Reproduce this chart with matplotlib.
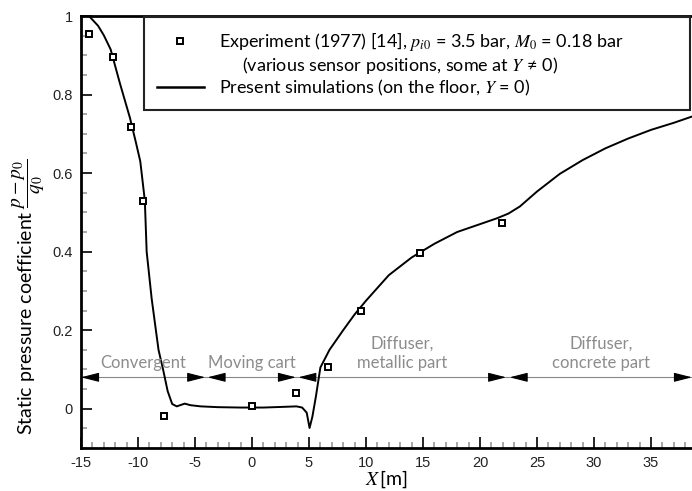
import matplotlib
matplotlib.use("Agg")
import matplotlib.pyplot as plt
from matplotlib.lines import Line2D
from matplotlib.ticker import MultipleLocator

plt.rcParams['axes.unicode_minus'] = False
plt.rcParams['mathtext.fontset'] = 'stix'

# Simulation curve (on the floor, Y = 0)
sim_x = [-14.3, -13.5, -13.0, -12.4, -11.6, -10.7, -10.2, -9.8, -9.4, -9.24, -8.8,
         -8.2, -7.8, -7.4, -7.0, -6.6, -6.2, -5.9, -5.4, -4.5, -3.0, -1.0, 1.0,
         3.0, 3.9, 4.4, 4.8, 5.05, 5.3, 5.6, 6.0, 6.8, 8.0, 9.0, 10.0, 12.0, 14.0,
         16.0, 18.0, 20.0, 21.5, 22.5, 23.5, 25.0, 27.0, 29.0, 31.0, 33.0, 35.0,
         37.0, 38.6]
sim_y = [1.0, 0.975, 0.951, 0.915, 0.83, 0.74, 0.68, 0.63, 0.53, 0.40, 0.28,
         0.15, 0.10, 0.045, 0.012, 0.006, 0.010, 0.013, 0.009, 0.006, 0.004, 0.003, 0.003,
         0.005, 0.006, 0.003, -0.01, -0.049, -0.02, 0.03, 0.105, 0.15, 0.20, 0.24, 0.275,
         0.34, 0.385, 0.42, 0.45, 0.47, 0.485, 0.497, 0.515, 0.553, 0.598, 0.633, 0.663,
         0.688, 0.71, 0.728, 0.744]

# Experiment (1977)
exp_x = [-14.3, -12.2, -10.6, -9.6, -7.7, 0.0, 3.9, 6.7, 9.6, 14.7, 21.9]
exp_y = [0.955, 0.896, 0.717, 0.529, -0.019, 0.008, 0.04, 0.106, 0.249, 0.396, 0.472]

# Sections of the facility
section_names = ["Convergent", "Moving cart", "Diffuser,\nmetallic part", "Diffuser,\nconcrete part"]
section_start = [-15.0, -3.9, 4.06, 22.6]
section_end = [-4.1, 3.86, 22.3, 38.6]
section_level = 0.08

x_ticks = [-15, -10, -5, 0, 5, 10, 15, 20, 25, 30, 35]
y_ticks = [0, 0.2, 0.4, 0.6, 0.8, 1]
y_ticklabels = ["0", "0.2", "0.4", "0.6", "0.8", "1"]

fig = plt.figure(figsize=(6.92, 4.91), dpi=100)
ax = fig.add_axes([81/692, 1-448/491, 611/692, 432/491])

ax.plot(sim_x, sim_y, color='black', lw=1.4, zorder=3)
ax.plot(exp_x, exp_y, ls='none', marker='s', ms=4.2, mfc='white', mec='black', mew=1.4, zorder=4)

ax.axhline(section_level, color='#888888', lw=0.8, zorder=1)
for name, s, e in zip(section_names, section_start, section_end):
    for tip, sgn in ((s, 1), (e, -1)):
        ax.annotate('', xy=(tip, section_level), xytext=(tip + sgn*1.3, section_level),
                    arrowprops=dict(arrowstyle='-|>,head_length=0.55,head_width=0.14',
                                    mutation_scale=20, color='black', lw=0.8,
                                    shrinkA=0, shrinkB=0), zorder=2)
    ax.text((s + e)/2, section_level + 0.016, name, ha='center', va='bottom',
            color='#8c8c8c', fontsize=12, family='Lato', linespacing=1.25)

ax.set_xlim(-15, 38.6)
ax.set_ylim(-0.1, 1.0)
ax.set_xticks(x_ticks)
ax.set_yticks(y_ticks)
ax.set_yticklabels(y_ticklabels)
ax.xaxis.set_minor_locator(MultipleLocator(1))
ax.yaxis.set_minor_locator(MultipleLocator(0.05))
ax.tick_params(which='both', direction='in', top=False, right=False, width=1.2)
ax.tick_params(which='major', length=8, labelsize=10.5, pad=6)
ax.tick_params(which='minor', length=4, color='#999999')
for lab in ax.get_xticklabels() + ax.get_yticklabels():
    lab.set_family('Liberation Sans')
    lab.set_color('#222222')
for side in ('left', 'bottom', 'top'):
    ax.spines[side].set_linewidth(2)
ax.spines['right'].set_visible(False)

ax.set_xlabel(r'$X\,$[m]', fontsize=14, family='Lato')
ax.xaxis.set_label_coords(0.5, -0.047)
ax.set_ylabel(r'Static pressure coefficient $\dfrac{p-p_0}{q_0}$', fontsize=14, family='Lato')
ax.yaxis.set_label_coords(-0.055, 0.35)

handles = [Line2D([], [], ls='none', marker='s', ms=4.2, mfc='white', mec='black', mew=1.4),
           Line2D([], [], ls='none', marker=None),
           Line2D([], [], color='black', lw=1.8)]
labels = [r'Experiment (1977) [14], $p_{i0}$ = 3.5 bar, $M_0$ = 0.18 bar',
          r'     (various sensor positions, some at $Y$ ≠ 0)',
          r'Present simulations (on the floor, $Y$ = 0)']
leg = ax.legend(handles, labels, loc='upper left', bbox_to_anchor=(0.103, 0.0, 0.894, 0.997),
                mode='expand', fancybox=False, framealpha=1, edgecolor='#222222',
                prop={'family': 'Lato', 'size': 13}, handlelength=2.6,
                borderpad=0.7, labelspacing=0.1, handletextpad=0.85, borderaxespad=0)
leg.get_frame().set_linewidth(1.5)

fig.savefig('out.png', dpi=100)
